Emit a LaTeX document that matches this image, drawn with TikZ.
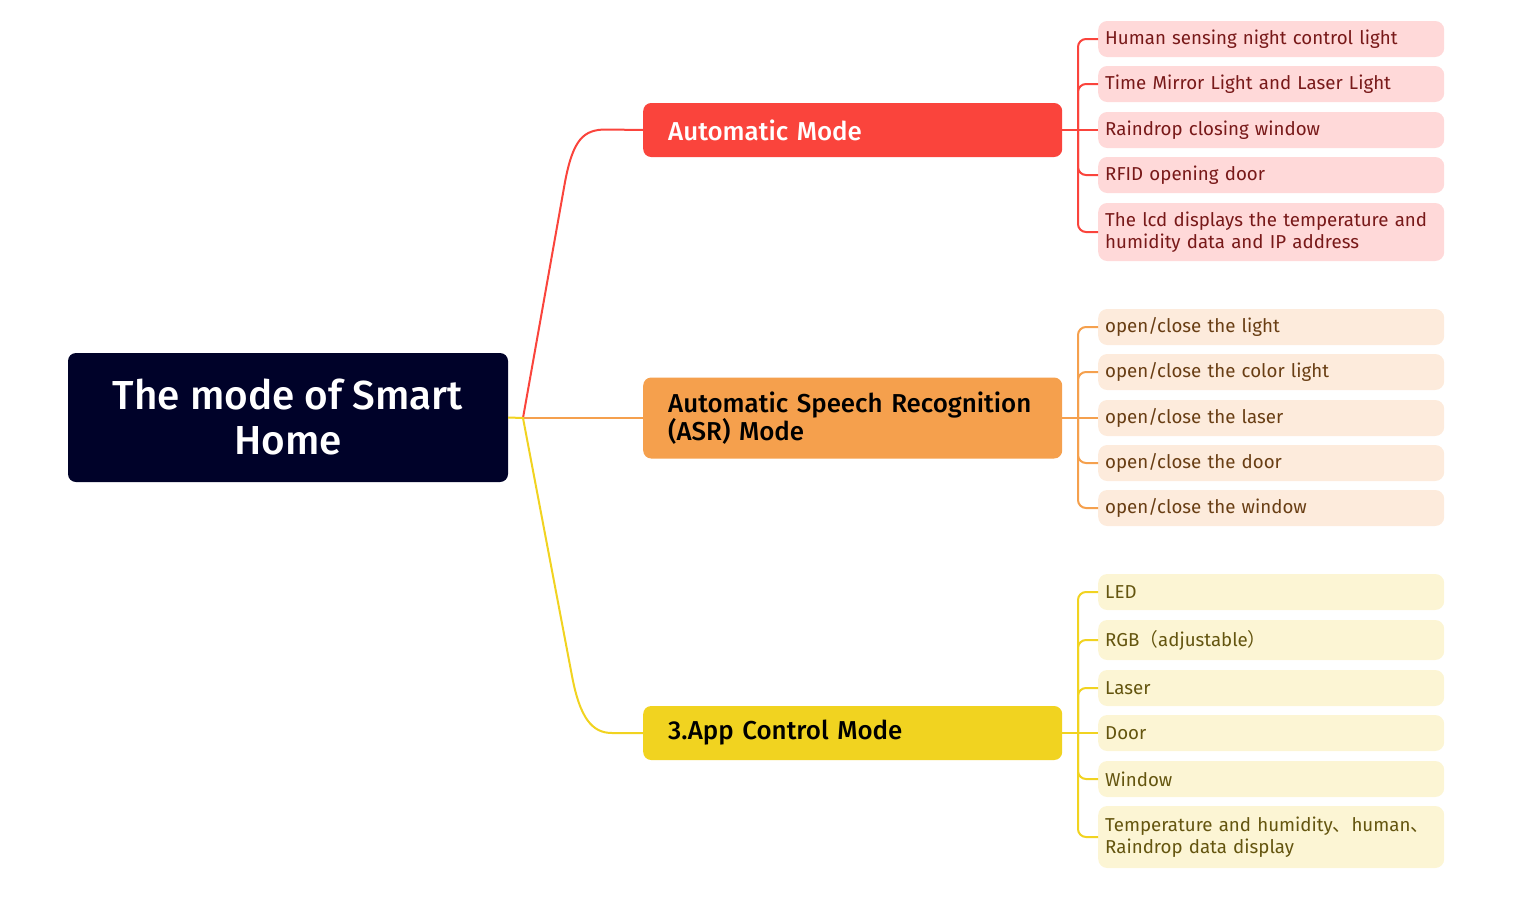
\documentclass[tikz,border=0pt]{standalone}
\usepackage{fontspec}
\setmainfont{Fira Sans}[BoldFont={Fira Sans Medium}]
\newfontfamily\cjk{Noto Sans CJK SC}
\usetikzlibrary{positioning,calc}
\definecolor{rootnavy}{RGB}{0,2,41}
\definecolor{modered}{RGB}{250,68,60}
\definecolor{modeorange}{RGB}{245,160,77}
\definecolor{modeyellow}{RGB}{241,211,32}
\definecolor{leafpink}{RGB}{255,217,217}
\definecolor{leafpeach}{RGB}{253,235,220}
\definecolor{leafcream}{RGB}{252,245,212}
\definecolor{textred}{RGB}{120,25,25}
\definecolor{textbrown}{RGB}{105,62,20}
\definecolor{textolive}{RGB}{100,85,15}

\begin{document}
\begin{tikzpicture}[x=1pt, y=-1pt, every node/.style={font=\fontsize{18.7}{22}\selectfont}]
            \tikzstyle{mode}=[anchor=west, rounded corners=8pt, minimum width=419pt, minimum height=54pt, text width=369pt, inner xsep=25pt, align=left, font=\bfseries\fontsize{25.9}{28}\selectfont]
            \tikzstyle{leaf}=[anchor=west, rounded corners=9pt, minimum height=36pt, text width=332pt, inner xsep=7pt, align=left]
            \tikzstyle{link}=[line width=2pt]
            \useasboundingbox (0,0) rectangle (1513,910);
            % centre
            \node[fill=rootnavy, text=white, rounded corners=8pt, minimum width=440pt, minimum height=129pt, align=center, font=\bfseries\fontsize{40.5}{45}\selectfont] (root) at (288,417.5) {The mode of Smart\\Home};
            \coordinate (J) at (523,418);
            % modes
            \node[mode, fill=modered, text=white] (auto) at (643,130) {Automatic Mode};
            \node[mode, fill=modeorange, text=black, minimum height=81pt] (asr) at (643,418) {Automatic Speech Recognition\\(ASR) Mode};
            \node[mode, fill=modeyellow, text=black] (app) at (643,733) {3.App Control Mode};
            \draw[link, modered] (J) -- (565,182) .. controls (573,140) and (583,129.5) .. (606,129.5) -- (auto.west);
            \draw[link, modeorange] (J) -- (asr.west);
            \draw[link, modeyellow] (root.east) -- (J) -- (572,676) .. controls (580,718) and (592,733) .. (612,733) -- (app.west);
            % automatic mode
            \node[leaf, fill=leafpink, text=textred] (a1) at (1098,39) {Human sensing night control light};
            \node[leaf, fill=leafpink, text=textred] (a2) at (1098,84) {Time Mirror Light and Laser Light};
            \node[leaf, fill=leafpink, text=textred] (a3) at (1098,130) {Raindrop closing window};
            \node[leaf, fill=leafpink, text=textred] (a4) at (1098,175) {RFID opening door};
            \node[leaf, fill=leafpink, text=textred, minimum height=58pt] (a5) at (1098,232) {The lcd displays the temperature and\\humidity data and IP address};
            \coordinate (ja) at (1078,130);
            \draw[link, modered] (auto.east) -- (a3.west);
            \foreach \n in {a1,a2,a4,a5}
                \draw[link, modered, rounded corners=8pt] (ja) |- (\n.west);
            % speech mode
            \node[leaf, fill=leafpeach, text=textbrown] (s1) at (1098,327) {open/close the light};
            \node[leaf, fill=leafpeach, text=textbrown] (s2) at (1098,372) {open/close the color light};
            \node[leaf, fill=leafpeach, text=textbrown] (s3) at (1098,418) {open/close the laser};
            \node[leaf, fill=leafpeach, text=textbrown] (s4) at (1098,463) {open/close the door};
            \node[leaf, fill=leafpeach, text=textbrown] (s5) at (1098,508) {open/close the window};
            \coordinate (js) at (1078,418);
            \draw[link, modeorange] (asr.east) -- (s3.west);
            \foreach \n in {s1,s2,s4,s5}
                \draw[link, modeorange, rounded corners=8pt] (js) |- (\n.west);
            % app mode
            \node[leaf, fill=leafcream, text=textolive] (p1) at (1098,592) {LED};
            \node[leaf, fill=leafcream, text=textolive, minimum height=40pt] (p2) at (1098,640) {RGB{\cjk （}adjustable{\cjk ）}};
            \node[leaf, fill=leafcream, text=textolive] (p3) at (1098,688) {Laser};
            \node[leaf, fill=leafcream, text=textolive] (p4) at (1098,733) {Door};
            \node[leaf, fill=leafcream, text=textolive] (p5) at (1098,779) {Window};
            \node[leaf, fill=leafcream, text=textolive, minimum height=62pt] (p6) at (1098,837) {Temperature and humidity{\cjk 、}human{\cjk 、}\\Raindrop data display};
            \coordinate (jp) at (1078,733);
            \draw[link, modeyellow] (app.east) -- (p4.west);
            \foreach \n in {p1,p2,p3,p5,p6}
                \draw[link, modeyellow, rounded corners=8pt] (jp) |- (\n.west);
        \end{tikzpicture}
\end{document}
